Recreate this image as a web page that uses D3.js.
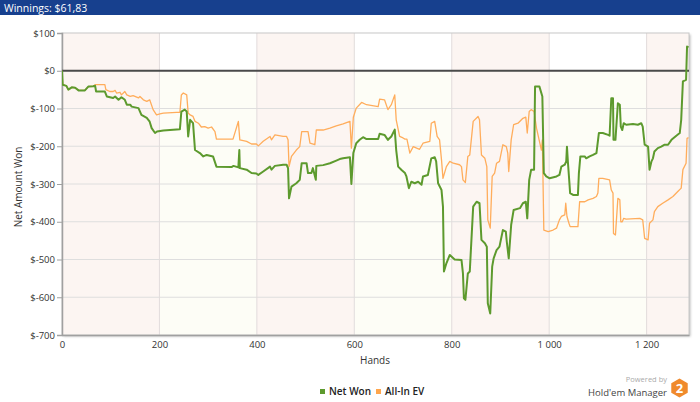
<!DOCTYPE html>
<html>
<head>
<meta charset="utf-8">
<script src="https://cdn.jsdelivr.net/npm/d3@7"></script>
<style>
  html, body { margin: 0; padding: 0; background: #ffffff; }
  svg { display: block; font-family: "Open Sans", "Noto Sans", sans-serif; }
</style>
</head>
<body>
<svg id="chart" width="700" height="402"></svg>
<script>
// ---------- DATA ----------
const title = "Winnings: $61,83";
const xTickValues = [0, 200, 400, 600, 800, 1000, 1200];
const xTickLabels = ["0", "200", "400", "600", "800", "1 000", "1 200"];
const yTickValues = [100, 0, -100, -200, -300, -400, -500, -600, -700];
const yTickLabels = ["$100", "$0", "$-100", "$-200", "$-300", "$-400", "$-500", "$-600", "$-700"];
const seriesNames = ["Net Won", "All-In EV"];

const netWonHands = [0,1.4,9,13,20,27,34,47,54,64,68,70,88,92,105,109,116,122,129,133,140,143,157,163,174,180,184,191,195,208,242,245,252,256,259,263,269,273,283,290,297,310,317,348,352,362,364,365,379,389,399,403,413,427,430,437,454,461,464,466,471,481,488,492,502,505,512,515,521,522,536,550,563,570,577,591,594,598,604,611,618,625,649,652,662,669,676,683,686,690,697,704,707,712,717,724,731,738,741,751,758,765,768,772,779,782,784,789,796,806,820,823,825,828,833,837,844,851,857,861,868,872,874,879,883,886,892,898,905,911,913,917,922,927,940,946,952,955,959,963,969,971,980,986,989,994,1001,1015,1021,1025,1032,1035,1036.5,1038.6,1040.6,1043,1049,1059,1061,1064,1073,1076,1083,1090,1097,1102,1110,1121,1124,1127.5,1131,1132,1136,1141,1145,1147,1150,1153,1158,1172,1182,1189,1192,1196,1203,1206,1210,1213,1216,1223,1230,1237,1244,1251,1261,1268,1271,1274.5,1281,1283,1286];
const netWonValues = [0,-37,-40,-50,-44,-45,-52,-52,-42,-41,-40,-55,-55,-68,-72,-68,-77,-70,-77,-90,-90,-95,-99,-117,-125,-135,-152,-165,-161,-158,-155,-108,-103,-108,-174,-130,-139,-210,-218,-227,-223,-227,-254,-255,-252,-256,-210,-258,-262,-271,-272,-276,-267,-254,-262,-252,-249,-249,-258,-338,-307,-298,-289,-245,-245,-271,-271,-258,-289,-252,-250,-245,-238,-234,-232,-229,-300,-218,-192,-183,-176,-181,-181,-167,-170,-183,-174,-156,-210,-254,-263,-271,-280,-311,-294,-298,-294,-302,-280,-276,-232,-229,-240,-298,-316,-360,-532,-510,-488,-500,-501,-537,-603,-607,-537,-532,-360,-347,-351,-448,-457,-466,-616,-643,-519,-497,-475,-466,-422,-426,-453,-497,-408,-369,-364,-351,-347,-391,-289,-262,-262,-42,-42,-68,-271,-280,-285,-280,-276,-254,-249,-240,-201,-245,-280,-324,-329,-329,-271,-227,-227,-232,-227,-223,-218,-165,-165,-170,-172,-73,-73,-183,-183,-86,-90,-148,-157,-139,-143,-141,-143,-139,-148,-196,-201,-262,-240,-232,-214,-205,-201,-196,-196,-183,-172,-165,-130,-28,-24,64,61.83];

const allInEvHands = [0,1.4,9,13,20,27,34,47,54,64,68,88,90,98,105,109,112,119,122,129,133,140,146,157,160,167,174,180,187,194,201,208,235,242,245,249,256,259,263,269,273,280,286,293,300,307,314,317,351,362,365,379,389,399,403,413,427,430,437,454,461,464,466,471,481,488,492,505,509,519,522,536,550,563,577,591,594,598,604,615,625,649,652,662,669,676,683,686,693,700,704,708,714,721,728,734,741,755,758,765,770,775,779,782,789,796,803,816,820,823,828,833,837,844,854,857,861,868,872,874,879,883,888,892,898,905,912,915,917,922,927,936,946,952,955,959,963,969,974,984,986,989,998,1008,1015,1021,1025,1032,1034,1036.5,1040.6,1043,1059,1062.5,1073,1080,1090,1097,1100,1102,1110,1124,1127.5,1131,1132,1136,1141,1145,1147,1150,1153,1158,1186,1192,1196,1203,1206,1213,1216,1223,1233,1244,1254,1264,1271,1274.5,1281,1283,1286];
const allInEvValues = [0,-37,-40,-50,-44,-45,-52,-52,-42,-41,-37,-37,-50,-55,-55,-52,-59,-57,-64,-55,-64,-68,-66,-72,-68,-77,-81,-77,-103,-117,-114,-112,-110,-110,-64,-59,-64,-112,-117,-121,-134,-139,-149,-148,-152,-149,-161,-181,-181,-134,-183,-187,-194,-194,-199,-187,-174,-183,-170,-174,-174,-183,-254,-227,-210,-201,-161,-161,-192,-196,-157,-157,-152,-146,-141,-134,-205,-123,-99,-84,-90,-95,-75,-77,-103,-90,-64,-130,-174,-178,-181,-181,-218,-201,-205,-208,-192,-187,-139,-134,-174,-183,-236,-285,-254,-240,-245,-249,-254,-289,-296,-227,-223,-134,-121,-130,-223,-232,-254,-395,-417,-280,-271,-245,-240,-196,-201,-218,-267,-183,-143,-139,-126,-123,-165,-108,-103,-108,-152,-210,-183,-422,-426,-422,-417,-395,-386,-382,-351,-386,-404,-413,-413,-347,-347,-342,-338,-333,-324,-285,-285,-289,-316,-324,-431,-435,-338,-342,-400,-400,-391,-393,-391,-395,-444,-448,-404,-395,-373,-360,-351,-342,-333,-320,-311,-262,-245,-179,-177];

// ---------- CHART ----------
const svg = d3.select("#chart");
const W = 700, H = 402;
const plot = {left: 62, right: 689, top: 33, bottom: 335};

const x = d3.scaleLinear().domain([0, 1287]).range([plot.left, plot.right]);
const y = d3.scaleLinear().domain([-700, 100]).range([plot.bottom, plot.top]);

// header bar
svg.append("rect").attr("x", 0).attr("y", 0).attr("width", W).attr("height", 15).attr("fill", "#17408e");
svg.append("text").attr("x", 4).attr("y", 11.5).attr("fill", "#ffffff")
  .attr("font-size", 10.5).text(title);

// defs: shadow + clip
const defs = svg.append("defs");
const f = defs.append("filter").attr("id", "sh").attr("x", "-5%").attr("y", "-5%").attr("width", "110%").attr("height", "110%");
f.append("feDropShadow").attr("dx", 1.5).attr("dy", 1.5).attr("stdDeviation", 1.2).attr("flood-color", "#000").attr("flood-opacity", 0.25);
defs.append("clipPath").attr("id", "clip").append("rect")
  .attr("x", plot.left).attr("y", plot.top).attr("width", plot.right - plot.left).attr("height", plot.bottom - plot.top);

// frame with shadow
svg.append("rect").attr("x", plot.left).attr("y", plot.top)
  .attr("width", plot.right - plot.left).attr("height", plot.bottom - plot.top)
  .attr("fill", "#ffffff").attr("filter", "url(#sh)");

// alternating bands
const bandEdges = [0, 200, 400, 600, 800, 1000, 1200, 1287];
const bg = svg.append("g").attr("clip-path", "url(#clip)");
for (let i = 0; i < bandEdges.length - 1; i++) {
  const x0 = x(bandEdges[i]), x1 = x(bandEdges[i + 1]);
  if (i % 2 === 0) {
    bg.append("rect").attr("x", x0).attr("y", plot.top).attr("width", x1 - x0)
      .attr("height", plot.bottom - plot.top).attr("fill", "#fcf5f2");
  } else {
    bg.append("rect").attr("x", x0).attr("y", y(0)).attr("width", x1 - x0)
      .attr("height", plot.bottom - y(0)).attr("fill", "#fdfdf6");
  }
}

// grid lines
const grid = svg.append("g");
grid.selectAll("line.h").data(yTickValues.filter(v => v !== 0 && v !== 100 && v !== -700)).enter()
  .append("line").attr("x1", plot.left).attr("x2", plot.right)
  .attr("y1", d => y(d)).attr("y2", d => y(d))
  .attr("stroke", "#dedede").attr("stroke-width", 1);
grid.selectAll("line.v").data(xTickValues.filter(v => v > 0)).enter()
  .append("line").attr("y1", plot.top).attr("y2", plot.bottom)
  .attr("x1", d => x(d)).attr("x2", d => x(d))
  .attr("stroke", "#e2dcdc").attr("stroke-width", 1);

// frame border
svg.append("rect").attr("x", plot.left).attr("y", plot.top)
  .attr("width", plot.right - plot.left).attr("height", plot.bottom - plot.top)
  .attr("fill", "none").attr("stroke", "#c8c8c8").attr("stroke-width", 1);

// axes
const yAxis = d3.axisLeft(y).tickValues(yTickValues)
  .tickFormat((d, i) => yTickLabels[i]).tickSize(5).tickPadding(2);
const gy = svg.append("g").attr("transform", `translate(${plot.left},0)`).call(yAxis);
gy.select(".domain").attr("stroke", "#a0a0a0").attr("stroke-width", 1.5);
gy.selectAll(".tick line").attr("stroke", "#a0a0a0");
gy.selectAll("text").attr("font-size", 9.5).attr("fill", "#333").attr("font-family", "'Open Sans', sans-serif");

const xAxis = d3.axisBottom(x).tickValues(xTickValues)
  .tickFormat((d, i) => xTickLabels[i]).tickSize(0).tickPadding(6);
const gx = svg.append("g").attr("transform", `translate(0,${plot.bottom})`).call(xAxis);
gx.select(".domain").attr("stroke", "#a0a0a0").attr("stroke-width", 1.5);
gx.selectAll("text").attr("font-size", 9.5).attr("fill", "#333").attr("font-family", "'Open Sans', sans-serif");

// zero line
svg.append("line").attr("x1", plot.left).attr("x2", plot.right)
  .attr("y1", y(0)).attr("y2", y(0)).attr("stroke", "#4a4a4a").attr("stroke-width", 2);

// series
const evData = allInEvHands.map((h, i) => [h, allInEvValues[i]]);
const nwData = netWonHands.map((h, i) => [h, netWonValues[i]]);
const line = d3.line().x(d => x(d[0])).y(d => y(d[1]));
const lines = svg.append("g").attr("clip-path", "url(#clip)");
lines.append("path").datum(evData).attr("d", line).attr("fill", "none")
  .attr("stroke", "#ffad5c").attr("stroke-width", 1.3).attr("stroke-linejoin", "round");
lines.append("path").datum(nwData).attr("d", line).attr("fill", "none")
  .attr("stroke", "#5d9a2e").attr("stroke-width", 2).attr("stroke-linejoin", "round");

// axis titles
svg.append("text").attr("x", 375).attr("y", 364).attr("text-anchor", "middle")
  .attr("font-size", 10).attr("fill", "#333").text("Hands");
svg.append("text").attr("transform", "translate(22,187) rotate(-90)").attr("text-anchor", "middle")
  .attr("font-size", 10).attr("fill", "#333").text("Net Amount Won");

// legend
const legColors = ["#5d9a2e", "#ffa64d"];
const legX = [320, 376];
seriesNames.forEach((n, i) => {
  svg.append("rect").attr("x", legX[i]).attr("y", 389).attr("width", 5).attr("height", 5).attr("fill", legColors[i]);
  svg.append("text").attr("x", legX[i] + 9).attr("y", 395).attr("font-size", 10)
    .attr("font-weight", 600).attr("fill", "#222").text(n);
});

// logo
svg.append("text").attr("x", 667).attr("y", 382).attr("text-anchor", "end")
  .attr("font-size", 7.5).attr("fill", "#aaaaaa").text("Powered by");
svg.append("text").attr("x", 667).attr("y", 395.5).attr("text-anchor", "end")
  .attr("font-size", 9.5).attr("fill", "#444").text("Hold'em Manager");
const hx = 679.5, hy = 388, hr = 9.5;
const hex = d3.range(6).map(k => {
  const a = Math.PI / 3 * k + Math.PI / 6;
  return [hx + hr * Math.cos(a), hy + hr * Math.sin(a)];
});
svg.append("path").attr("d", "M" + hex.join("L") + "Z").attr("fill", "#f08a2c");
svg.append("text").attr("x", hx).attr("y", hy + 4.5).attr("text-anchor", "middle")
  .attr("font-size", 13).attr("font-weight", 700).attr("fill", "#fff").text("2");
</script>
</body>
</html>
